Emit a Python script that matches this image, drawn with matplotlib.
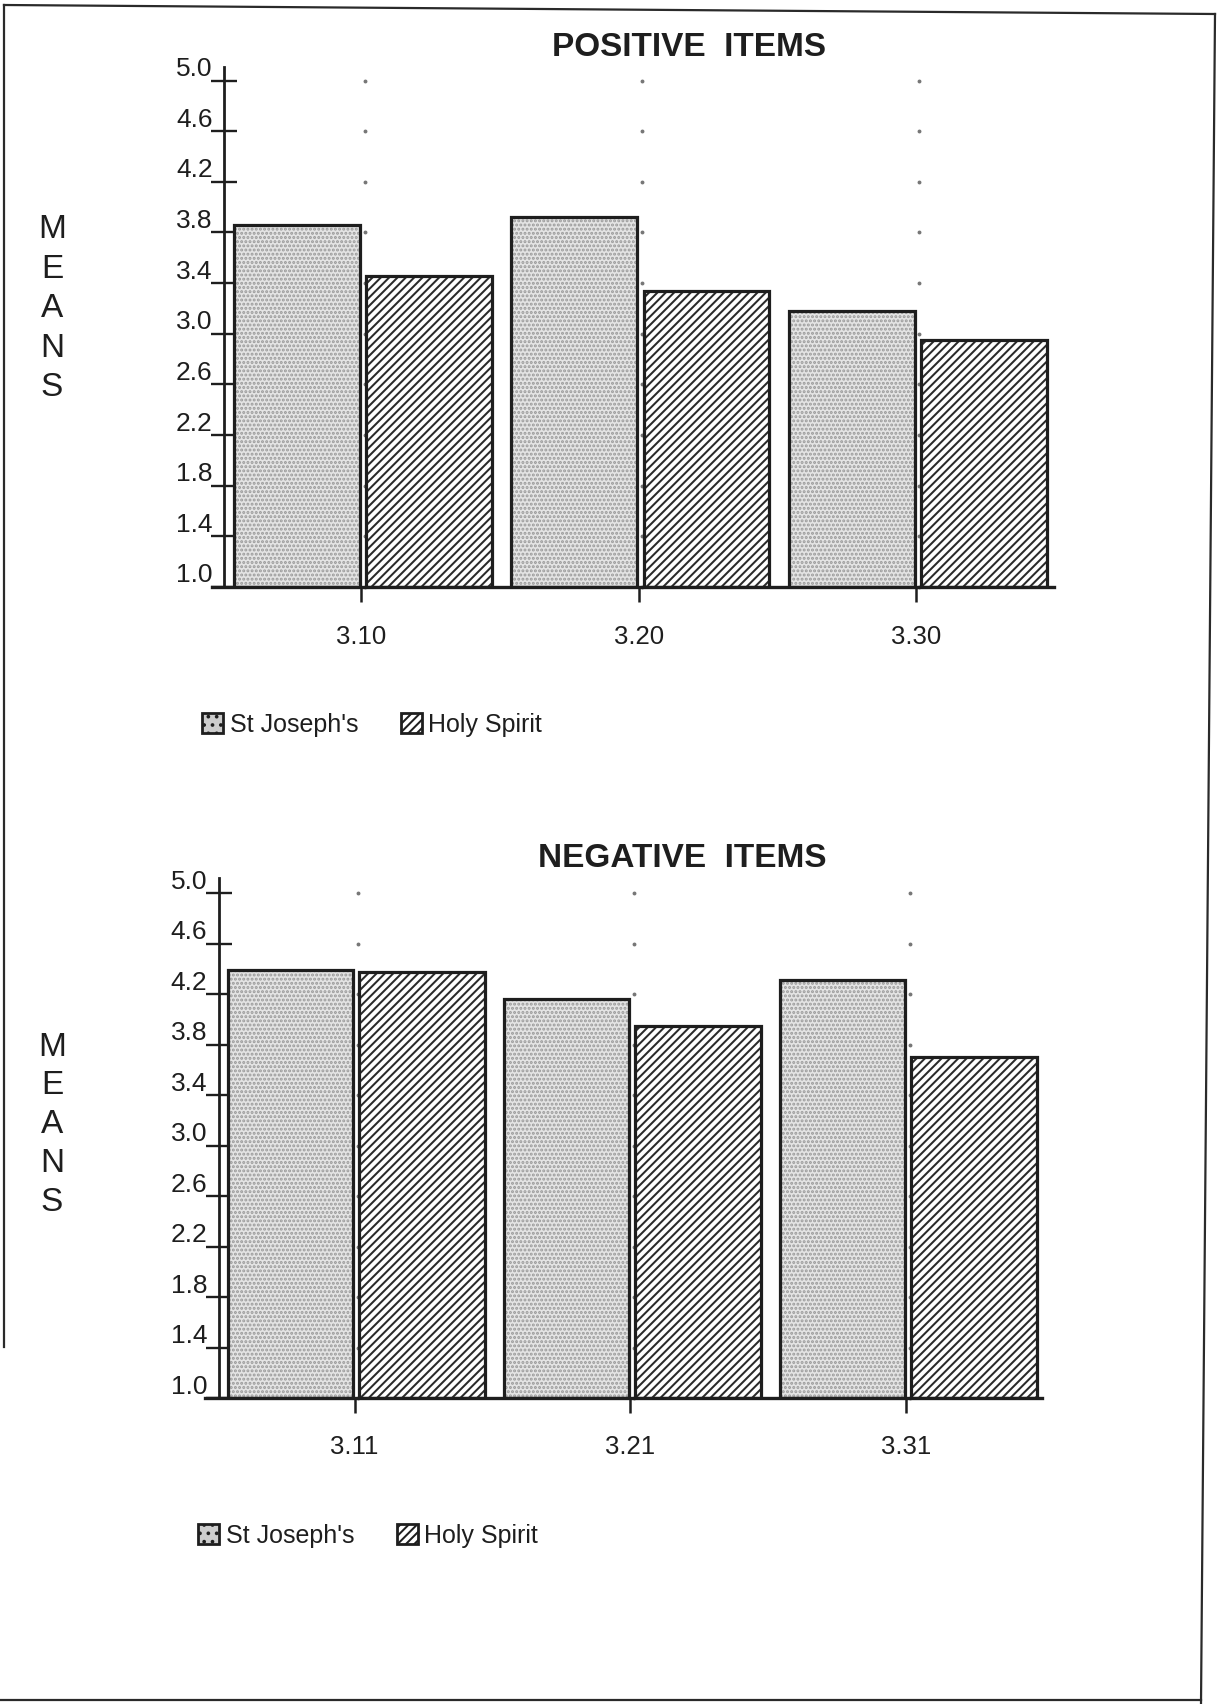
import matplotlib
matplotlib.use('Agg')
import matplotlib.pyplot as plt
from matplotlib.patches import Patch
from matplotlib.lines import Line2D
from matplotlib.transforms import ScaledTranslation
import numpy as np

W, H = 1221, 1704
DPI = 100

# ---------------- data ----------------
schools = ["St Joseph's", "Holy Spirit"]
pos_items = ["3.10", "3.20", "3.30"]
pos_st_joseph = [3.86, 3.92, 3.18]
pos_holy_spirit = [3.46, 3.34, 2.95]
neg_items = ["3.11", "3.21", "3.31"]
neg_st_joseph = [4.39, 4.16, 4.31]
neg_holy_spirit = [4.38, 3.95, 3.70]
y_ticks = [1.0, 1.4, 1.8, 2.2, 2.6, 3.0, 3.4, 3.8, 4.2, 4.6, 5.0]
titles = ["POSITIVE  ITEMS", "NEGATIVE  ITEMS"]
y_label = "MEANS"
BASE = 1.0

NARROW = ['Liberation Sans Narrow', 'Liberation Sans', 'DejaVu Sans']
REG = ['Liberation Sans', 'DejaVu Sans']

plt.rcParams['hatch.linewidth'] = 1.45

fig = plt.figure(figsize=(W / DPI, H / DPI), dpi=DPI)
fig.patch.set_facecolor('white')

SJ_FACE = '#e4e4e4'
SJ_DOT = '#9a9a9a'
INK = '#1e1e1e'


def fx(x):
    return x / W


def fy(y):
    return 1 - y / H


def panel(rect, xlim, yaxis_x, ytop, items, sj, hs, title, title_xy,
          means_x, means_y0, means_step, legend_xy):
    left, top, right, bottom = rect
    ax = fig.add_axes([fx(left), fy(bottom), (right - left) / W, (bottom - top) / H])
    ax.set_facecolor('none')
    x = np.arange(len(items))
    w = 0.454
    off_sj, off_hs = -0.232, 0.245

    # faint grid points at the group centres
    for xi in x:
        ax.plot(np.full(len(y_ticks), xi + 0.012), y_ticks, ls='none', marker='o',
                ms=1.8, color='#777777', zorder=1, clip_on=False)

    sj_h = np.array(sj) - BASE
    hs_h = np.array(hs) - BASE
    ax.bar(x + off_sj, sj_h, w, bottom=BASE, color=SJ_FACE, edgecolor=SJ_DOT,
           hatch='....', linewidth=0, zorder=2)
    ax.bar(x + off_sj, sj_h, w, bottom=BASE, fill=False, edgecolor=INK,
           linewidth=2.3, zorder=3)
    ax.bar(x + off_hs, hs_h, w, bottom=BASE, color='white', edgecolor='#2a2a2a',
           hatch='////', linewidth=0, zorder=2)
    ax.bar(x + off_hs, hs_h, w, bottom=BASE, fill=False, edgecolor=INK,
           linewidth=2.3, zorder=3)

    ax.set_xlim(*xlim)
    ax.set_ylim(BASE, ytop)
    for s in ('top', 'right'):
        ax.spines[s].set_visible(False)
    ax.spines['left'].set_position(('data', yaxis_x))
    ax.spines['left'].set_linewidth(2.0)
    ax.spines['left'].set_color(INK)
    ax.spines['bottom'].set_linewidth(2.4)
    ax.spines['bottom'].set_color(INK)

    ax.set_xticks(x)
    ax.set_xticklabels(items)
    ax.tick_params(axis='x', direction='out', length=11, width=1.8, pad=16,
                   colors=INK, labelsize=18.5)
    for lab in ax.get_xticklabels():
        lab.set_family(NARROW)

    ax.set_yticks(y_ticks)
    ax.set_yticklabels([f"{v:.1f}" for v in y_ticks])
    ax.tick_params(axis='y', direction='inout', length=19, width=1.7, pad=-1,
                   colors=INK, labelsize=19)
    offset = ScaledTranslation(0, 14 / DPI, fig.dpi_scale_trans)
    for lab in ax.get_yticklabels():
        lab.set_family(REG)
        lab.set_transform(lab.get_transform() + offset)

    fig.text(fx(title_xy[0]), fy(title_xy[1]), title, ha='center', va='center',
             fontsize=24, fontweight='bold', family=NARROW, color=INK)

    for i, ch in enumerate(y_label):
        fig.text(fx(means_x), fy(means_y0 + i * means_step), ch, ha='center',
                 va='center', fontsize=24, family=REG, color=INK)

    handles = [Patch(facecolor='#cdcdcd', edgecolor=INK, hatch='..', linewidth=2),
               Patch(facecolor='white', edgecolor=INK, hatch='////', linewidth=2)]
    leg = ax.legend(handles, schools, loc='center left',
                    bbox_to_anchor=(fx(legend_xy[0]), fy(legend_xy[1])),
                    bbox_transform=fig.transFigure, ncol=2, frameon=False,
                    borderpad=0, borderaxespad=0, handlelength=0.85,
                    handleheight=0.85, handletextpad=0.25, columnspacing=1.7,
                    prop={'family': NARROW, 'size': 18})
    for t in leg.get_texts():
        t.set_color(INK)
    return ax


panel((211.6, 66.7, 1053.7, 587.0), (-0.540, 2.497), -0.4937, 5.109,
      pos_items, pos_st_joseph, pos_holy_spirit, titles[0], (689, 47),
      52, 229.5, 39.6, (202, 725))

panel((205.0, 877.7, 1042.0, 1398.0), (-0.5417, 2.491), -0.491, 5.125,
      neg_items, neg_st_joseph, neg_holy_spirit, titles[1], (682, 858.5),
      52, 1047, 38.8, (198, 1535.5))

# scanned page frame
for (x0, y0, x1, y1) in [(4, 5, 1215, 14), (4, 5, 4, 1347),
                          (1215, 14, 1201, 1704), (0, 1700, 1201, 1700)]:
    fig.add_artist(Line2D([fx(x0), fx(x1)], [fy(y0), fy(y1)],
                          transform=fig.transFigure, color='#2a2a2a', lw=1.6))

fig.savefig('out.png', dpi=DPI, facecolor='white')
